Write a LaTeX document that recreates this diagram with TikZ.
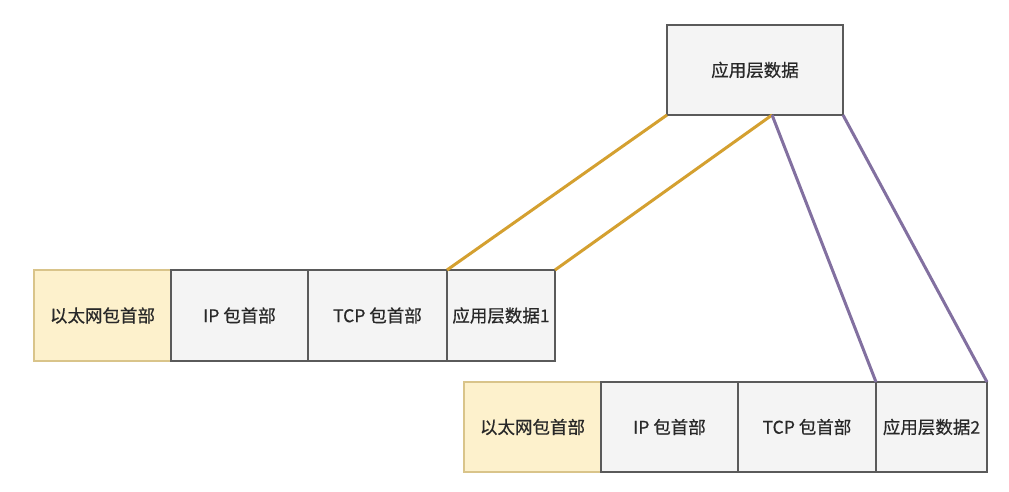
\documentclass[tikz,border=0pt]{standalone}
\usepackage{fontspec}
\setmainfont{Noto Sans CJK SC}[FakeBold=0.6]
\usetikzlibrary{positioning,calc}
\definecolor{hdrYellow}{HTML}{FDF1CC}
\definecolor{hdrYellowLine}{HTML}{D9C48A}
\definecolor{boxGray}{HTML}{F4F4F4}
\definecolor{boxLine}{HTML}{5A5A5A}
\definecolor{splitOrange}{HTML}{D4A030}
\definecolor{splitPurple}{HTML}{8270A0}
\definecolor{labelText}{HTML}{282828}

\tikzset{
  pkt/.style={draw=boxLine, fill=boxGray, line width=1.2pt, minimum height=91pt,
    inner sep=0pt, outer sep=0pt, font=\fontsize{17.5}{19}\selectfont, text=labelText},
  ethhdr/.style={pkt, fill=hdrYellow, draw=hdrYellowLine},
  link/.style={line width=3pt}
}

\begin{document}
\begin{tikzpicture}[x=1pt,y=-1pt]
            \useasboundingbox (0,0) rectangle (1009,492);
            \node[pkt, minimum width=176pt, minimum height=90pt] (app) at (755,70) {应用层数据};
            % first segment
            \node[ethhdr, minimum width=137pt] (eth1) at (102.5,315.5) {以太网包首部};
            \node[pkt, minimum width=137pt, right=0pt of eth1] (ip1) {IP 包首部};
            \node[pkt, minimum width=139pt, right=0pt of ip1] (tcp1) {TCP 包首部};
            \node[pkt, minimum width=108pt, right=0pt of tcp1] (data1) {应用层数据1};
            % second segment
            \node[ethhdr, minimum width=137pt, minimum height=90pt] (eth2) at (532.5,427) {以太网包首部};
            \node[pkt, minimum width=137pt, minimum height=90pt, right=0pt of eth2] (ip2) {IP 包首部};
            \node[pkt, minimum width=138pt, minimum height=90pt, right=0pt of ip2] (tcp2) {TCP 包首部};
            \node[pkt, minimum width=111pt, minimum height=90pt, right=0pt of tcp2] (data2) {应用层数据2};
            \coordinate (cut) at ($(app.south west)!0.597!(app.south east)$);
            \draw[link, splitOrange] (app.south west) -- (data1.north west);
            \draw[link, splitOrange] (cut) -- (data1.north east);
            \draw[link, splitPurple] (cut) -- (data2.north west);
            \draw[link, splitPurple] (app.south east) -- (data2.north east);
        \end{tikzpicture}
\end{document}
